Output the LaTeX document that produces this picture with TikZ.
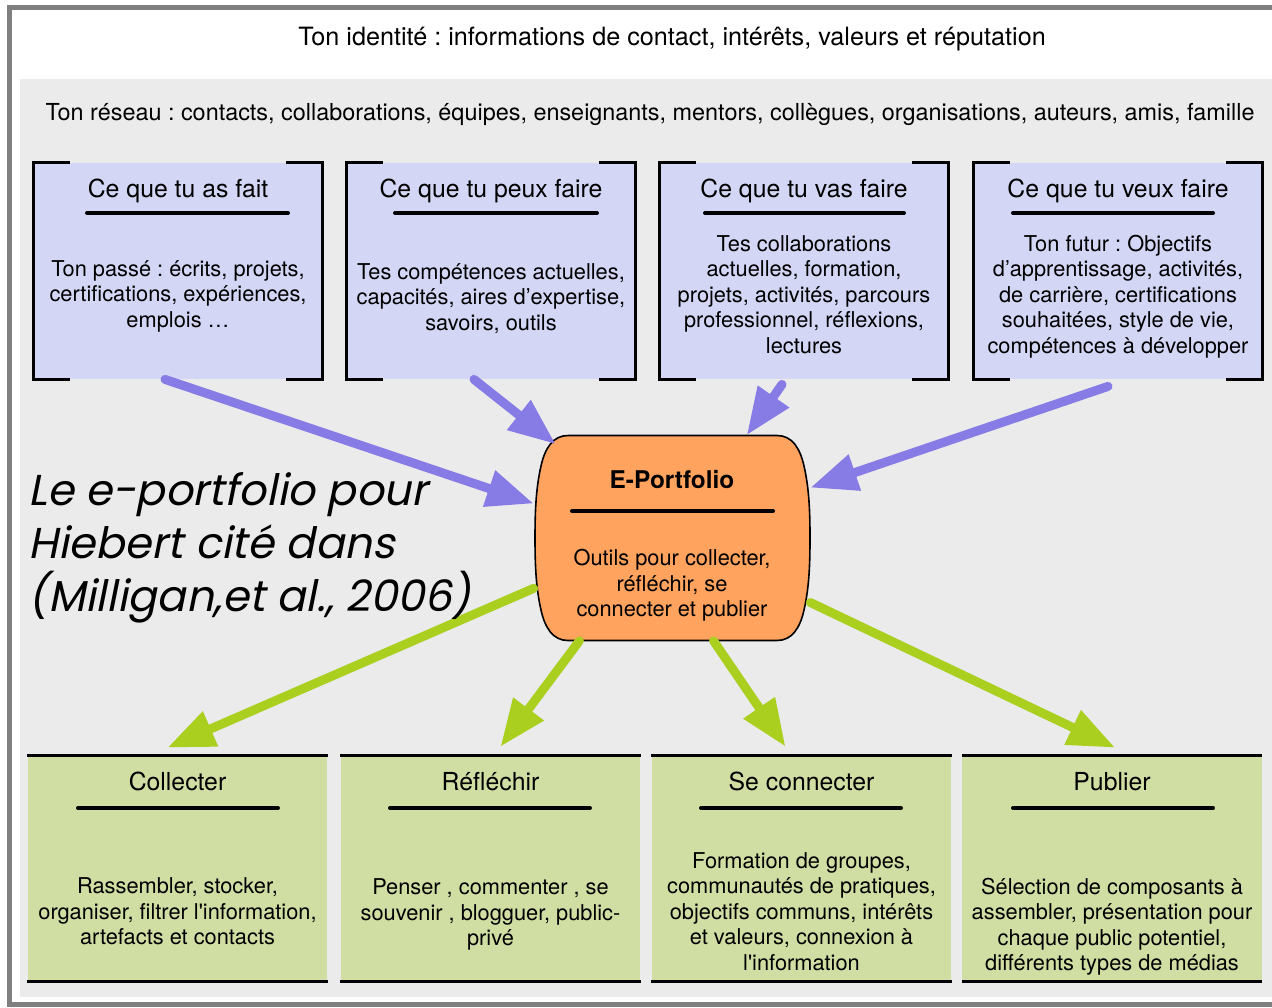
\documentclass[tikz,border=0pt]{standalone}
\usepackage{fontspec}
\setmainfont{TeX Gyre Heros}
\newfontfamily\quotefont[FakeSlant=0.2]{Poppins}
\usetikzlibrary{arrows.meta}
\frenchspacing

\definecolor{boxblue}{RGB}{211,215,245}
\definecolor{arrowblue}{RGB}{135,123,230}
\definecolor{boxgreen}{RGB}{208,222,163}
\definecolor{arrowgreen}{RGB}{170,207,31}
\definecolor{epfill}{RGB}{255,163,95}
\definecolor{panel}{RGB}{235,235,235}
\definecolor{framegray}{RGB}{128,128,128}

\begin{document}
\begin{tikzpicture}[x=0.5pt, y=-0.5pt, >={Triangle[length=23.5pt,width=18pt]},
  title/.style={font=\fontsize{12.4}{14}\selectfont, anchor=base, inner sep=0pt},
  body/.style={font=\fontsize{10.9}{12.75}\selectfont, align=center, inner sep=0pt},
  bluebox/.style={fill=boxblue, minimum width=144pt, minimum height=108pt, inner sep=0pt},
  greenbox/.style={fill=boxgreen, minimum width=149.75pt, minimum height=112.5pt, inner sep=0pt},
  rim/.style={line width=1.5pt},
  rule/.style={line width=2pt, line cap=round},
  inarrow/.style={->, arrowblue, line width=4.5pt, line cap=round},
  outarrow/.style={->, arrowgreen, line width=4.5pt, line cap=round}]
\useasboundingbox (0,0) rectangle (1272,1007);
\draw [framegray, line width=2.5pt, fill=white] (9.5,7) rectangle (1300,1004.5);
\fill [panel] (20,79) rectangle (1300,997);
\node [title, font=\fontsize{12.6}{14}\selectfont] (identite) at (672,45) {Ton identité : informations de contact, intérêts, valeurs et réputation};
\node [title, font=\fontsize{11.7}{14}\selectfont] (reseau) at (650,120) {Ton réseau : contacts, collaborations, équipes, enseignants, mentors, collègues, organisations, auteurs, amis, famille};

\node [bluebox] (fait) at (178,271) {};
\node [bluebox] (peux) at (491,271) {};
\node [bluebox] (vas) at (804,271) {};
\node [bluebox] (veux) at (1118,271) {};
\draw [rim] ([xshift=18pt]fait.north west) -| (fait.south west) -- ++(18pt,0);
\draw [rim] ([xshift=-18pt]fait.north east) -| (fait.south east) -- ++(-18pt,0);
\draw [rim] ([xshift=18pt]peux.north west) -| (peux.south west) -- ++(18pt,0);
\draw [rim] ([xshift=-18pt]peux.north east) -| (peux.south east) -- ++(-18pt,0);
\draw [rim] ([xshift=18pt]vas.north west) -| (vas.south west) -- ++(18pt,0);
\draw [rim] ([xshift=-18pt]vas.north east) -| (vas.south east) -- ++(-18pt,0);
\draw [rim] ([xshift=18pt]veux.north west) -| (veux.south west) -- ++(18pt,0);
\draw [rim] ([xshift=-18pt]veux.north east) -| (veux.south east) -- ++(-18pt,0);
\node [title] (fait-t) at (178,197) {Ce que tu as fait};
\node [title] (peux-t) at (491,197) {Ce que tu peux faire};
\node [title] (vas-t) at (804,197) {Ce que tu vas faire};
\node [title] (veux-t) at (1118,197) {Ce que tu veux faire};
\draw [rule] (87,213) -- (288,213);
\draw [rule] (395,213) -- (597,213);
\draw [rule] (705,213) -- (904,213);
\draw [rule] (1013,213) -- (1213,213);
\node [body] (fait-b) at (178,296) {Ton passé : écrits, projets,\\certifications, expériences,\\emplois \ldots};
\node [body] (peux-b) at (491,298.5) {Tes compétences actuelles,\\capacités, aires d’expertise,\\savoirs, outils};
\node [body] (vas-b) at (804,294.5) {Tes collaborations\\actuelles, formation,\\projets, activités, parcours\\professionnel, réflexions,\\lectures};
\node [body] (veux-b) at (1118,296.5) {Ton futur : Objectifs\\d’apprentissage, activités,\\de carrière, certifications\\souhaitées, style de vie,\\compétences à développer};

\node [greenbox] (collecter) at (177.5,868.5) {};
\node [greenbox] (reflechir) at (490.5,868.5) {};
\node [greenbox] (connecter) at (801.5,868.5) {};
\node [greenbox] (publier) at (1112,868.5) {};
\draw [rim] (collecter.north west) -- (collecter.north east) (collecter.south west) -- (collecter.south east);
\draw [rim] (reflechir.north west) -- (reflechir.north east) (reflechir.south west) -- (reflechir.south east);
\draw [rim] (connecter.north west) -- (connecter.north east) (connecter.south west) -- (connecter.south east);
\draw [rim] (publier.north west) -- (publier.north east) (publier.south west) -- (publier.south east);
\node [title] (collecter-t) at (177.5,790) {Collecter};
\node [title] (reflechir-t) at (490.5,790) {Réfléchir};
\node [title] (connecter-t) at (801.5,790) {Se connecter};
\node [title] (publier-t) at (1112,790) {Publier};
\draw [rule] (78,808) -- (278,808);
\draw [rule] (390,808) -- (590,808);
\draw [rule] (701,808) -- (901,808);
\draw [rule] (1013,808) -- (1213,808);
\node [body] (collecter-b) at (177.5,911.5) {Rassembler, stocker,\\organiser, filtrer l\textquotesingle information,\\artefacts et contacts};
\node [body] (reflechir-b) at (490.5,914.5) {Penser , commenter , se\\souvenir , blogguer, public-\\privé};
\node [body] (connecter-b) at (801.5,911.5) {Formation de groupes,\\communautés de pratiques,\\objectifs communs, intérêts\\et valeurs, connexion à\\l\textquotesingle information};
\node [body] (publier-b) at (1112,926.5) {Sélection de composants à\\assembler, présentation pour\\chaque public potentiel,\\différents types de médias};

\node [minimum width=138pt, minimum height=102.5pt, inner sep=0pt] (ep) at (672,538) {};
\draw [line width=0.8pt, fill=epfill] (568,435.5) -- (777,435.5)
  .. controls (792,435.5) and (800,448) .. (804,466) .. controls (809,488) and (810,510) .. (810,538)
  .. controls (810,566) and (809,588) .. (804,610) .. controls (800,628) and (792,640.5) .. (777,640.5)
  -- (568,640.5) .. controls (553,640.5) and (545,628) .. (541,610) .. controls (536,588) and (535,566) .. (535,538)
  .. controls (535,510) and (536,488) .. (541,466) .. controls (545,448) and (553,435.5) .. (568,435.5) -- cycle;
\draw [inarrow] ([xshift=-6.5pt]fait.south) -- (ep.166);
\draw [inarrow] ([xshift=-8.5pt]peux.south) -- ([shift={(11pt,-4.5pt)}]ep.north west);
\draw [inarrow] ([xshift=-11pt, yshift=-2.5pt]vas.south) -- (ep.54);
\draw [inarrow] ([xshift=-5pt, yshift=-3.5pt]veux.south) -- (ep.20);
\draw [outarrow] (ep.200) -- ([xshift=-5pt, yshift=4pt]collecter.north);
\draw [outarrow] (ep.228) -- ([xshift=5pt, yshift=4.5pt]reflechir.north);
\draw [outarrow] (ep.292) -- ([xshift=-8pt, yshift=4.5pt]connecter.north);
\draw [outarrow] (ep.335) -- ([xshift=1.5pt, yshift=4pt]publier.north);
\node [title, font=\bfseries\fontsize{12.2}{14}\selectfont] (ep-t) at (672,488) {E-Portfolio};
\draw [rule] (572,511) -- (773,511);
\node [body] (ep-b) at (672,585.5) {Outils pour collecter,\\réfléchir, se\\connecter et publier};

\node [anchor=north west, align=left, inner sep=0pt, font=\quotefont\fontsize{21.6}{26.5}\selectfont] (source) at (28,472) {Le e-portfolio pour\\Hiebert cité dans\\(Milligan,et al., 2006)};
\end{tikzpicture}
\end{document}
